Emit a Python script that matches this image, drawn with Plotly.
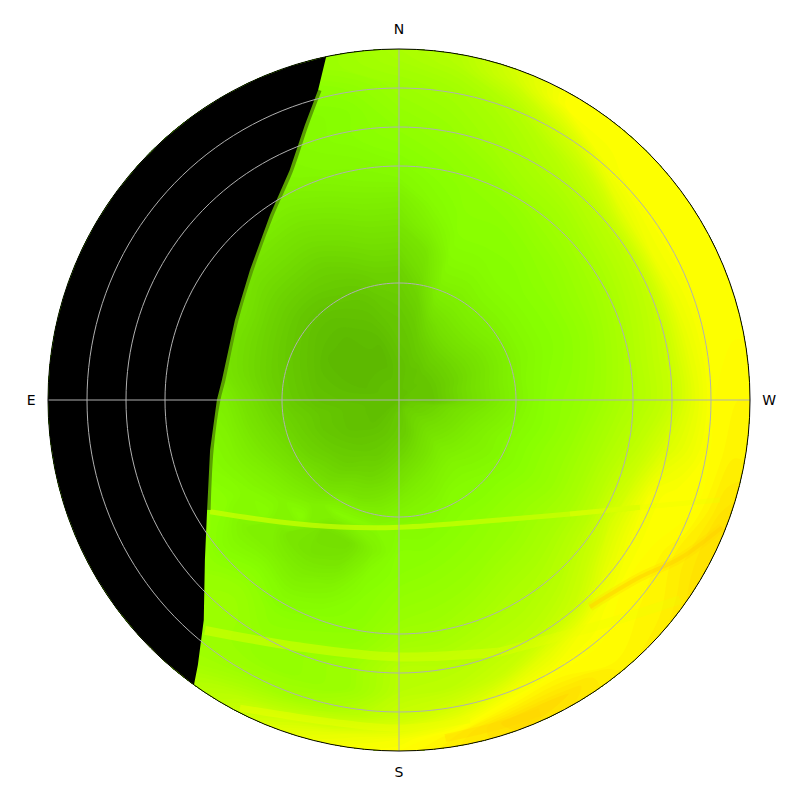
import numpy as np
import plotly.graph_objects as go

# Zenith-angle rows (deg) and azimuth columns (deg)
ring_r = [0, 3, 9, 15, 21, 27, 33, 39, 45, 51, 57, 63, 69, 75, 81, 87, 90]
azimuths = list(range(0, 370, 10))

# Level, per azimuth, from zenith outwards.
# The night side is painted over by the terminator polygon below.
az000 = [33,33,33,35,36,38,40,44,48,52,57,60,62,64,66,69,70]
az010 = [33,33,32,33,35,37,40,44,48,52,56,58,60,60,62,66,66]
az020 = [33,33,31,31,33,35,38,42,46,50,54,57,58,58,60,62,62]
az030 = [33,33,31,31,32,34,37,40,44,48,52,55,56,56,56,56,56]
az040 = [33,33,31,30,31,33,36,40,44,48,52,54,54,54,54,54,54]
az050 = [33,33,31,30,31,33,36,40,44,48,50,50,50,50,50,50,50]
az060 = [33,33,31,30,31,34,37,41,46,48,50,50,50,50,50,50,50]
az070 = [33,33,31,31,32,35,38,42,46,48,50,50,50,50,50,50,50]
az080 = [33,33,32,32,33,36,39,43,47,50,50,50,50,50,50,50,50]
az090 = [33,33,33,33,34,37,41,46,52,54,54,54,54,54,54,54,54]
az100 = [33,33,33,34,36,39,43,48,54,57,57,57,57,57,57,57,57]
az110 = [33,33,33,34,36,40,45,50,55,58,60,60,60,60,60,60,60]
az120 = [33,33,33,34,37,41,47,53,57,60,62,64,64,64,64,64,64]
az130 = [33,33,33,35,38,43,49,55,59,54,58,62,64,64,64,64,64]
az140 = [33,34,34,36,39,44,51,59,49,54,60,64,66,66,66,68,70]
az150 = [33,35,35,37,41,47,57,45,47,52,57,61,63,64,67,74,76]
az160 = [33,35,36,38,42,48,58,45,49,55,59,62,64,64,68,80,84]
az170 = [33,36,37,40,44,50,57,54,58,60,61,63,66,66,72,85,88]
az180 = [33,36,38,42,47,53,58,60,61,63,65,68,73,74,78,88,90]
az190 = [33,37,39,44,50,55,58,60,62,64,66,69,73,75,82,92,93]
az200 = [33,38,41,46,52,56,59,61,63,65,68,71,74,78,88,96,95]
az210 = [33,39,43,48,54,58,60,62,64,67,70,72,75,84,90,95,94]
az220 = [33,39,44,50,55,58,60,63,65,68,71,74,78,88,90,91,92]
az230 = [33,39,44,49,54,57,60,63,66,69,73,78,85,90,91,92,93]
az240 = [33,38,43,48,53,56,59,62,65,69,74,82,88,90,92,94,95]
az250 = [33,38,42,47,52,56,59,62,65,69,74,80,88,90,90,94,95]
az260 = [33,37,41,46,50,54,58,61,64,68,72,76,82,86,90,92,92]
az270 = [33,36,36,42,47,52,57,61,63,66,70,73,77,84,90,91,91]
az280 = [33,36,36,42,47,52,57,60,62,65,69,73,77,85,90,90,90]
az290 = [33,35,36,41,46,51,56,59,61,64,68,72,76,86,90,90,90]
az300 = [33,35,36,41,46,51,56,59,61,64,67,71,75,87,90,90,90]
az310 = [33,34,36,41,47,52,56,59,61,63,66,70,74,85,90,90,90]
az320 = [33,34,36,41,47,52,56,59,60,62,65,68,72,78,88,90,90]
az330 = [33,34,35,40,46,51,55,58,60,61,63,67,70,73,80,90,90]
az340 = [33,34,35,38,43,50,55,58,60,61,62,64,67,69,72,80,82]
az350 = [33,34,34,36,38,41,45,48,54,58,60,62,64,66,68,72,73]
columns = [az000, az010, az020, az030, az040, az050, az060, az070, az080,
           az090, az100, az110, az120, az130, az140, az150, az160, az170,
           az180, az190, az200, az210, az220, az230, az240, az250, az260,
           az270, az280, az290, az300, az310, az320, az330, az340, az350, az000]

# Terminator between lit and night sides
night_az = [12.0, 14.6, 18.9, 25.4, 34.9, 48.9, 64.0, 83.6, 90.0, 104.8, 119.8, 129.5, 138.4, 142.8, 144.2]
night_r = [89.9, 82.2, 74.5, 65.3, 57.8, 50.7, 46.8, 45.7, 46.7, 50.1, 56.7, 64.5, 75.4, 85.3, 89.8]
rim_az = [144, 138, 132, 126, 120, 114, 108, 102, 96, 90, 84, 78, 72, 66, 60, 54, 48, 42, 36, 30, 24, 18, 12]

# Thin bright arcs and orange streaks
arc1_az = [120.6, 135.7, 155.1, 180.5, 220.1, 236.3, 246.0, 252.7]
arc1_r = [56.3, 43.7, 35.9, 32.6, 40.2, 52.7, 67.6, 86.2]
arc2_az = [139.9, 158.2, 180.0, 201.8, 221.8, 234.6]
arc2_r = [77.2, 68.2, 65.9, 69.6, 77.4, 88.4]
arc3_az = [152.7, 167.9, 180.0, 192.5]
arc3_r = [88.9, 84.4, 84.1, 84.0]
streak1_az = [222.7, 233.7, 240.6, 248.5]
streak1_r = [72.2, 76.7, 82.7, 89.0]
streak2_az = [187.8, 197.3, 204.3]
streak2_r = [87.5, 87.3, 87.8]

# Axis furniture
ring_ticks = [30, 60, 70, 80]
spoke_ticks = [0, 90, 180, 270]
spoke_labels = ["N", "E", "S", "W"]
grid_colour = "#b0b0b0"

colorscale = [[0, "#000000"], [0.3, "#5cb800"], [0.45, "#74df00"], [0.6, "#88ff00"],
              [0.7, "#aaff00"], [0.8, "#d0ff00"], [0.9, "#ffff00"], [1, "#ffc000"]]

z = np.array(columns, dtype=float).T
aa, rr = np.meshgrid(np.radians(azimuths), np.array(ring_r, dtype=float))
gx = -rr * np.sin(aa)
gy = rr * np.cos(aa)

hidden = dict(showgrid=False, showline=False, startline=False, endline=False,
              showticklabels="none", minorgridcount=0, smoothing=1)

fig = go.Figure()
fig.add_trace(go.Carpet(a=azimuths, b=ring_r, x=gx.tolist(), y=gy.tolist(), carpet="sky",
                        aaxis=hidden, baxis=hidden))
fig.add_trace(go.Contourcarpet(
    a=azimuths, b=ring_r, z=z.tolist(), carpet="sky",
    colorscale=colorscale, zmin=0, zmax=100, showscale=False,
    autocontour=False,
    contours=dict(start=0, end=100, size=1, coloring="fill", showlines=False),
    line=dict(width=0)))


def line(az, r, color, width, shape="spline"):
    fig.add_trace(go.Scatterpolar(theta=az, r=r, mode="lines", hoverinfo="skip",
                                  line=dict(color=color, width=width, shape=shape)))


line(arc1_az[:7], arc1_r[:7], "rgba(205,255,0,0.7)", 5)
line(arc1_az[5:], arc1_r[5:], "rgba(235,255,0,0.35)", 5)
line(arc2_az[:4], arc2_r[:4], "rgba(215,255,0,0.55)", 9)
line(arc2_az[3:], arc2_r[3:], "rgba(235,255,0,0.3)", 9)
line(arc3_az, arc3_r, "rgba(235,255,0,0.5)", 7)
line(streak1_az, streak1_r, "rgba(255,215,0,0.3)", 9)
line(streak1_az, streak1_r, "rgba(255,210,0,0.5)", 4)
line(streak2_az, streak2_r, "rgba(255,212,0,0.35)", 8)
line(night_az[1:11], night_r[1:11], "#5aa000", 7)

fig.add_trace(go.Scatterpolar(
    theta=night_az + rim_az, r=night_r + [90] * len(rim_az),
    mode="lines", fill="toself", fillcolor="#000000",
    line=dict(color="#000000", width=0), hoverinfo="skip"))

# Grid drawn over the field and the night side, from the tick values
for t in ring_ticks:
    line(list(range(0, 362, 2)), [t] * 181, grid_colour, 1, "linear")
for t in spoke_ticks[:2]:
    line([t, t + 180], [90, 90], grid_colour, 1, "linear")

dom_x = [40 / 800, 742 / 800]
dom_y = [57 / 800, 759 / 800]
fig.update_layout(
    width=800, height=800, showlegend=False,
    margin=dict(l=0, r=0, t=0, b=0),
    paper_bgcolor="white", plot_bgcolor="rgba(0,0,0,0)",
    font=dict(family="DejaVu Sans", size=14, color="black"),
    xaxis=dict(domain=dom_x, range=[-90, 90], visible=False),
    yaxis=dict(domain=dom_y, range=[-90, 90], visible=False),
    polar=dict(
        domain=dict(x=dom_x, y=dom_y),
        bgcolor="rgba(0,0,0,0)",
        radialaxis=dict(range=[0, 90], tickvals=ring_ticks, showticklabels=False,
                        ticks="", showline=False, showgrid=False),
        angularaxis=dict(direction="counterclockwise", rotation=90,
                         tickmode="array", tickvals=spoke_ticks,
                         ticktext=spoke_labels, ticks="outside", ticklen=9,
                         tickcolor="rgba(0,0,0,0)", showline=True, linecolor="black",
                         linewidth=1, showgrid=False, layer="above traces"),
    ),
)

fig.write_html("out.html")
